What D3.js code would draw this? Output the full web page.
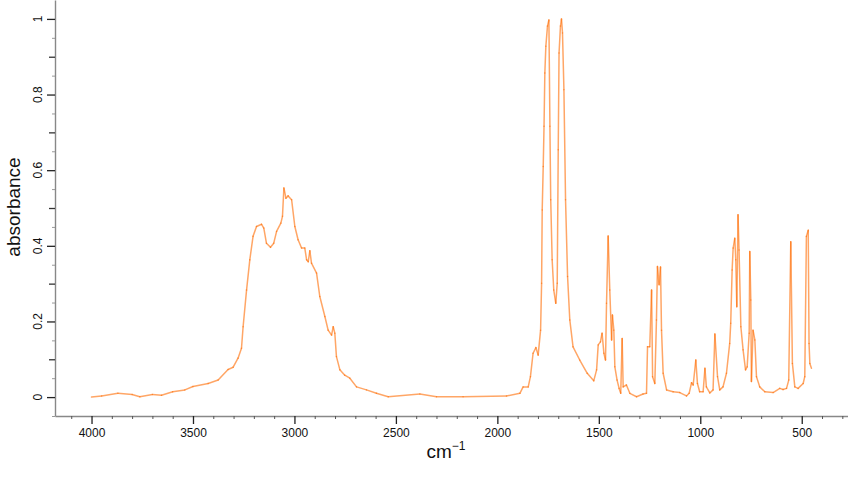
<!DOCTYPE html>
<html>
<head>
<meta charset="utf-8">
<script src="https://cdn.jsdelivr.net/npm/d3@7"></script>
<style>
  body { margin: 0; background: #fff; }
  svg { display: block; font-family: "Liberation Sans", Arial, sans-serif; }
</style>
</head>
<body>
<div id="container"></div>
<script>
/**
 * CONSTANTS AND DATA
 * */
const width = 848,
  height = 480,
  margin = { top: 0, bottom: 64, left: 55, right: 0 }

// spectrum (cm-1, absorbance)
const wavenumbers = [
  4000, 3950, 3870, 3800, 3762, 3700, 3655, 3600, 3540, 3500, 3425, 3376, 3327, 3302, 3278, 3261,
  3253, 3236, 3220, 3204, 3187, 3162, 3151, 3138, 3118, 3102, 3088, 3067, 3059, 3052, 3042, 3031,
  3014, 2998, 2982, 2965, 2949, 2940, 2932, 2924, 2916, 2891, 2875, 2850, 2834, 2817, 2809, 2801,
  2793, 2776, 2752, 2727, 2694, 2645, 2596, 2538, 2382, 2300, 2169, 1955, 1889, 1873, 1848, 1837,
  1824, 1810, 1799, 1787, 1782, 1779, 1774, 1770, 1766, 1761, 1753, 1746, 1741, 1737, 1730, 1722,
  1712, 1705, 1700, 1696, 1689, 1684, 1679, 1672, 1664, 1654, 1643, 1627, 1594, 1557, 1525, 1511,
  1503, 1492, 1484, 1475, 1467, 1462, 1454, 1446, 1437, 1433, 1426, 1421, 1410, 1400, 1392, 1385,
  1380, 1364, 1347, 1314, 1282, 1265, 1260, 1249, 1240, 1235, 1224, 1216, 1211, 1203, 1196, 1191,
  1183, 1166, 1134, 1101, 1068, 1055, 1043, 1035, 1022, 1014, 1003, 986, 977, 970, 953, 937,
  928, 915, 904, 888, 871, 855, 850, 843, 838, 830, 825, 820, 814, 809, 800, 789,
  777, 769, 759, 756, 751, 748, 740, 731, 723, 707, 682, 641, 608, 592, 575, 564,
  554, 546, 534, 518, 493, 485, 477, 468, 464, 460, 452
]
const absorbance = [
  0.000, 0.003, 0.010, 0.007, 0.001, 0.007, 0.005, 0.014, 0.019, 0.028, 0.036, 0.045, 0.073, 0.079, 0.103, 0.129,
  0.186, 0.283, 0.363, 0.425, 0.451, 0.457, 0.447, 0.407, 0.396, 0.407, 0.438, 0.460, 0.478, 0.553, 0.526, 0.532,
  0.522, 0.451, 0.416, 0.394, 0.394, 0.363, 0.358, 0.387, 0.354, 0.328, 0.266, 0.213, 0.177, 0.164, 0.186, 0.169,
  0.107, 0.072, 0.058, 0.050, 0.027, 0.019, 0.010, 0.001, 0.008, 0.001, 0.001, 0.003, 0.010, 0.027, 0.027, 0.054,
  0.116, 0.131, 0.111, 0.177, 0.301, 0.495, 0.610, 0.716, 0.857, 0.928, 0.981, 0.997, 0.716, 0.522, 0.363, 0.283,
  0.248, 0.301, 0.654, 0.910, 0.981, 1.000, 0.963, 0.813, 0.522, 0.319, 0.204, 0.133, 0.098, 0.063, 0.043, 0.072,
  0.138, 0.146, 0.169, 0.116, 0.098, 0.248, 0.426, 0.283, 0.151, 0.217, 0.177, 0.080, 0.045, 0.023, 0.010, 0.155,
  0.027, 0.032, 0.010, 0.001, 0.008, 0.010, 0.133, 0.133, 0.283, 0.054, 0.036, 0.204, 0.345, 0.297, 0.344, 0.177,
  0.063, 0.019, 0.014, 0.012, 0.003, 0.010, 0.038, 0.032, 0.098, 0.036, 0.014, 0.014, 0.076, 0.027, 0.011, 0.019,
  0.167, 0.054, 0.019, 0.027, 0.063, 0.142, 0.195, 0.336, 0.394, 0.420, 0.363, 0.239, 0.482, 0.389, 0.186, 0.125,
  0.072, 0.080, 0.169, 0.385, 0.257, 0.041, 0.177, 0.151, 0.054, 0.027, 0.014, 0.012, 0.023, 0.020, 0.023, 0.045,
  0.411, 0.089, 0.027, 0.023, 0.036, 0.054, 0.425, 0.441, 0.142, 0.089, 0.076
]

const xMajor = [4000, 3500, 3000, 2500, 2000, 1500, 1000, 500]
const xMinor = d3.range(4100, 299, -100).filter(d => d % 500 !== 0)
const yMajor = [0, 0.2, 0.4, 0.6, 0.8, 1]
const yMid = [0.1, 0.3, 0.5, 0.7, 0.9]
const ySmall = [-0.05, 0.05, 0.15, 0.25, 0.35, 0.45, 0.55, 0.65, 0.75, 0.85, 0.95]

/**
 * SCALES
 * */
const x = d3.scaleLinear().domain([4180, 272]).range([margin.left, width - margin.right])
const y = d3.scaleLinear().domain([-0.05, 1.05]).range([height - margin.bottom, margin.top])

const svg = d3.select('#container')
  .append('svg')
  .attr('width', width)
  .attr('height', height)

// axes
const xAxisG = svg.append('g').attr('transform', `translate(0,${y(-0.05)})`)
xAxisG.append('g')
  .call(d3.axisBottom(x).tickValues(xMinor).tickSize(3).tickSizeOuter(0).tickFormat(''))
  .call(g => g.selectAll('.tick line').attr('stroke', '#555'))
xAxisG.append('g')
  .call(d3.axisBottom(x).tickValues(xMajor).tickSize(8).tickSizeOuter(0).tickPadding(4)
    .tickFormat(d3.format('d')))
  .call(g => g.select('.domain').remove())
  .call(g => g.selectAll('.tick line').attr('stroke', '#222').attr('stroke-width', 1.3))
  .call(g => g.selectAll('.tick text').attr('font-size', 12).attr('fill', '#111')
    .attr('font-family', '"Liberation Sans", Arial, sans-serif'))
xAxisG.selectAll('.domain').attr('stroke', '#888').attr('stroke-width', 1.4)

const yAxisG = svg.append('g').attr('transform', `translate(${x(4180)},0)`)
yAxisG.append('g')
  .call(d3.axisLeft(y).tickValues(ySmall).tickSize(3).tickSizeOuter(0).tickFormat(''))
  .call(g => g.selectAll('.tick line').attr('stroke', '#999'))
  .call(g => g.select('.domain').attr('stroke', '#888').attr('stroke-width', 1.4))
yAxisG.append('g')
  .call(d3.axisLeft(y).tickValues(yMid).tickSize(6).tickFormat(''))
  .call(g => g.select('.domain').remove())
  .call(g => g.selectAll('.tick line').attr('stroke', '#333').attr('stroke-width', 1.3))
yAxisG.append('g')
  .call(d3.axisLeft(y).tickValues(yMajor).tickSize(8).tickFormat(''))
  .call(g => g.select('.domain').remove())
  .call(g => g.selectAll('.tick line').attr('stroke', '#222').attr('stroke-width', 1.3))

// rotated y tick labels
svg.append('g')
  .selectAll('text')
  .data(yMajor)
  .join('text')
  .attr('transform', d => `translate(${x(4180) - 13},${y(d)}) rotate(-90)`)
  .attr('text-anchor', 'middle')
  .attr('font-size', 12)
  .attr('fill', '#111')
  .text(d => d3.format('~g')(d))

// titles
svg.append('text')
  .attr('transform', `translate(20,207) rotate(-90)`)
  .attr('text-anchor', 'middle')
  .attr('font-size', 19)
  .attr('fill', '#111')
  .text('absorbance')

const xt = svg.append('text')
  .attr('x', 446)
  .attr('y', 458)
  .attr('text-anchor', 'middle')
  .attr('font-size', 19)
  .attr('fill', '#111')
xt.append('tspan').text('cm')
xt.append('tspan').attr('font-size', 12).attr('dy', -8).text('\u22121')

// spectrum, drawn as translucent segments so that narrow peaks darken
const points = wavenumbers.map((w, i) => [w, absorbance[i]])
svg.append('g')
  .selectAll('line')
  .data(d3.pairs(points))
  .join('line')
  .attr('x1', d => x(d[0][0]))
  .attr('y1', d => y(d[0][1]))
  .attr('x2', d => x(d[1][0]))
  .attr('y2', d => y(d[1][1]))
  .attr('stroke', '#ff6a00')
  .attr('stroke-opacity', 0.6)
  .attr('stroke-width', 1.5)
  .attr('stroke-linecap', 'round')
</script>
</body>
</html>
